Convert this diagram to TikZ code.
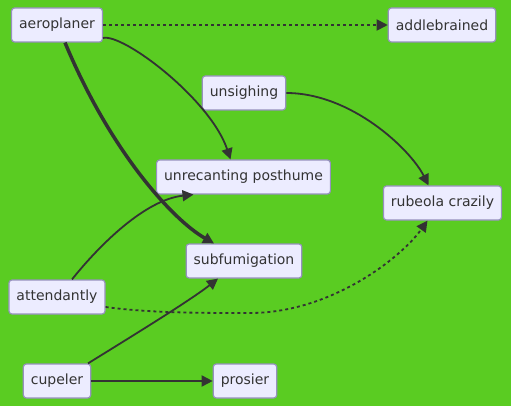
\documentclass[tikz,border=0pt]{standalone}
\usepackage{fontspec}
\setmainfont{DejaVu Sans}
\usetikzlibrary{arrows.meta}
\definecolor{bggreen}{RGB}{90,204,34}
\definecolor{boxfill}{RGB}{236,236,255}
\definecolor{boxline}{RGB}{150,145,190}
\definecolor{ink}{RGB}{51,51,51}
\tikzset{
every box/.style={font=\fontsize{14}{17}\selectfont},
}

\begin{document}
\begin{tikzpicture}[x=1pt, y=-1pt,
						box/.style={every box, draw=boxline, fill=boxfill, text=ink, rounded corners=3pt, line width=1.2pt, minimum height=34pt, inner xsep=7.5pt, inner ysep=0pt},
                        link/.style={draw=ink, line width=1.8pt, -{Triangle[length=11pt,width=11pt]}},
                        dotlink/.style={link, dash pattern=on 3pt off 3pt},
                        heavy/.style={link, line width=3.5pt},
					]
					\fill[bggreen] (0,0) rectangle (511,406);
					\node[box] (aero) at (57,25) {aeroplaner};
					\node[box] (addle) at (442,25) {addlebrained};
					\node[box] (unsigh) at (244,93) {unsighing};
					\node[box] (unrec) at (243.5,177) {unrecanting posthume};
					\node[box] (rubeola) at (442.5,203) {rubeola crazily};
					\node[box] (subfum) at (244,261) {subfumigation};
					\node[box] (attend) at (57,297) {attendantly};
					\node[box] (cupel) at (57,381) {cupeler};
					\node[box] (prosier) at (245,381) {prosier};
                    % edges out of aeroplaner
                    \draw[dotlink] (aero.east) -- (addle.west);
                    \draw[link] ([yshift=-13pt]aero.east) .. controls +(20,-5) and +(-20,-60) .. ([xshift=-13pt]unrec.north);
                    \draw[heavy] ([xshift=8pt]aero.south) .. controls +(45,108) and +(-42,-24) .. ([xshift=-30pt]subfum.north);
                    \draw[link] (unsigh.east) .. controls +(65,0) and +(-18,-36) .. ([xshift=-14pt]rubeola.north);
                    % edges out of attendantly
                    \draw[link] ([xshift=15pt]attend.north) .. controls +(28,-35) and +(-48,5) .. ([xshift=-50pt]unrec.south);
                    \draw[dotlink] ([yshift=-10pt]attend.east) .. controls +(44,6) and +(-50,0) .. (250,313) .. controls +(80,0) and +(-27,38) .. ([xshift=-15pt]rubeola.south);
                    % edges out of cupeler
                    \draw[link] ([xshift=31pt]cupel.north) .. controls +(42,-26) and +(-28,22) .. ([xshift=-26pt]subfum.south);
                    \draw[link] (cupel.east) -- (prosier.west);
	\end{tikzpicture}
\end{document}
